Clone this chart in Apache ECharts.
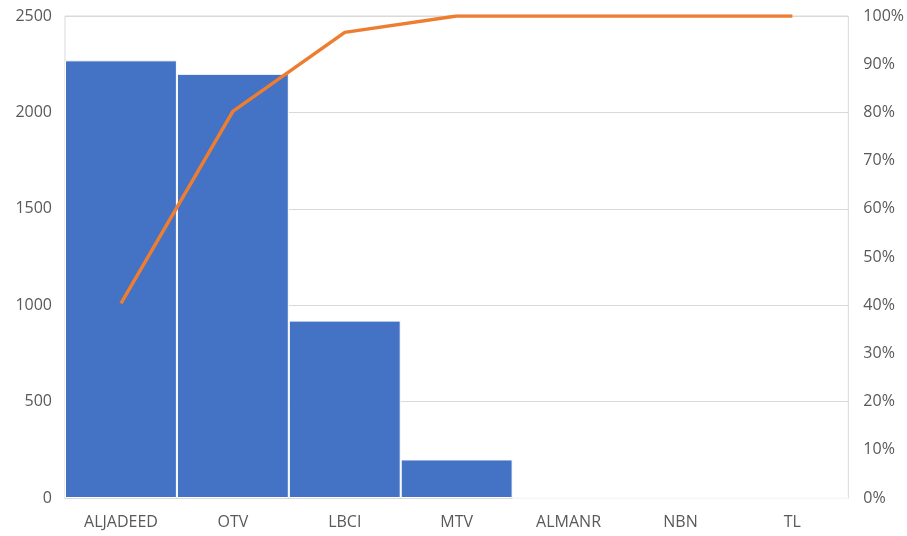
<!DOCTYPE html>
<html>
<head>
<meta charset="utf-8">
<script src="https://cdn.jsdelivr.net/npm/echarts@6/dist/echarts.min.js"></script>
<style>
  html, body { margin: 0; padding: 0; background: #fff; }
  #pareto { width: 907px; height: 536px; }
</style>
</head>
<body>
<div id="pareto"></div>
<script>
var channels = ['ALJADEED', 'OTV', 'LBCI', 'MTV', 'ALMANR', 'NBN', 'TL'];
var counts = [2270, 2200, 920, 200, 0, 0, 0];
var cumulative = [0.404, 0.802, 0.966, 1, 1, 1, 1];

var myChart = echarts.init(document.getElementById('pareto'));

var labelStyle = {
    color: '#595959',
    fontSize: 16,
    fontFamily: 'Open Sans, sans-serif'
};

var option = {
    animation: false,
    grid: {
        left: 65,
        right: 58,
        top: 16,
        bottom: 38,
        show: true,
        borderColor: '#d9d9d9',
        borderWidth: 1
    },
    xAxis: {
        type: 'category',
        data: channels,
        axisLine: { lineStyle: { color: '#d9d9d9' } },
        axisTick: { show: false },
        axisLabel: Object.assign({ margin: 16 }, labelStyle)
    },
    yAxis: [{
        type: 'value',
        min: 0,
        max: 2500,
        interval: 500,
        axisLine: { show: false },
        axisTick: { show: false },
        splitLine: { lineStyle: { color: '#d9d9d9' } },
        axisLabel: Object.assign({
            margin: 13,
            formatter: function (v) { return String(v); }
        }, labelStyle)
    }, {
        type: 'value',
        min: 0,
        max: 1,
        interval: 0.1,
        axisLine: { show: false },
        axisTick: { show: false },
        splitLine: { show: false },
        axisLabel: Object.assign({
            margin: 15,
            formatter: function (v) { return Math.round(v * 100) + '%'; }
        }, labelStyle)
    }],
    series: [{
        name: 'count',
        type: 'bar',
        data: counts,
        barCategoryGap: '0%',
        itemStyle: {
            color: '#4472C4',
            borderColor: '#ffffff',
            borderWidth: 1
        }
    }, {
        name: 'cumulative',
        type: 'line',
        yAxisIndex: 1,
        data: cumulative,
        symbol: 'none',
        lineStyle: { color: '#ED7D31', width: 3.5 },
        z: 5
    }]
};

myChart.setOption(option);
</script>
</body>
</html>
